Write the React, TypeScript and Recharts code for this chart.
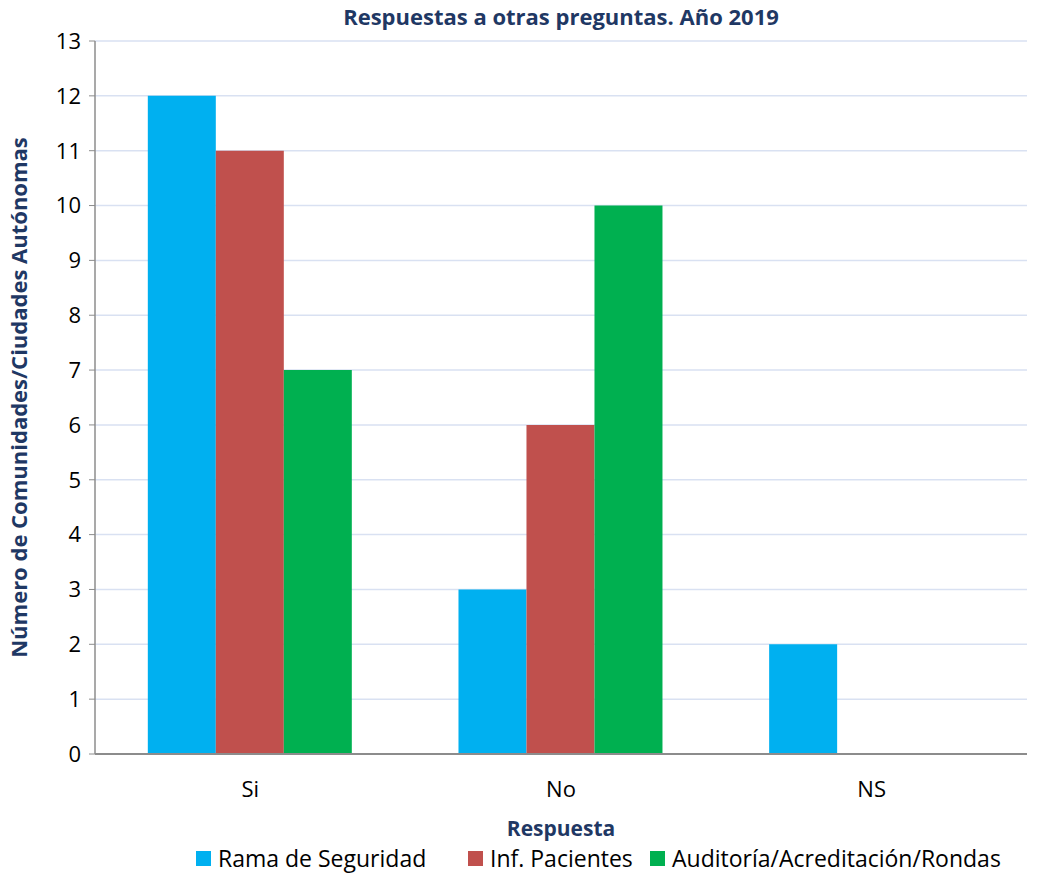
import React from 'react';
import { BarChart, Bar, XAxis, YAxis, CartesianGrid } from 'recharts';

const categories = ['Si', 'No', 'NS'];
const ramaSeguridad = [12, 3, 2];
const infPacientes = [11, 6, 0];
const auditoria = [7, 10, 0];
const yTicks = [0, 1, 2, 3, 4, 5, 6, 7, 8, 9, 10, 11, 12, 13];

const series = [
  { key: 'rama', name: 'Rama de Seguridad', color: '#00B0F0', left: 196 },
  { key: 'inf', name: 'Inf. Pacientes', color: '#C0504D', left: 468 },
  { key: 'aud', name: 'Auditoría/Acreditación/Rondas', color: '#00B050', left: 650 },
];

const data = categories.map((c, i) => ({
  name: c,
  rama: ramaSeguridad[i],
  inf: infPacientes[i],
  aud: auditoria[i],
}));

const FONT = 'Open Sans, sans-serif';
const NAVY = '#1F3864';

export default function App() {
  return (
    <div style={{ position: 'absolute', left: 0, top: 0, width: 1037, height: 875, background: '#fff' }}>
      <div style={{ position: 'absolute', top: 1, left: 95, width: 932, textAlign: 'center', fontFamily: FONT, fontWeight: 700, fontSize: 22, color: NAVY }}>
        Respuestas a otras preguntas. Año 2019
      </div>
      <BarChart
        width={1037}
        height={875}
        data={data}
        margin={{ top: 41, right: 10, bottom: 0, left: 0 }}
        barCategoryGap="17%"
        barGap={0}
      >
        <CartesianGrid vertical={false} stroke="#D9E1F2" strokeWidth={1.5} />
        <XAxis
          dataKey="name"
          tickLine={false}
          axisLine={{ stroke: '#8C8C8C', strokeWidth: 2 }}
          tick={{ fill: '#000', fontSize: 22, fontFamily: FONT }}
          tickMargin={21}
          height={121}
          label={{ value: 'Respuesta', position: 'insideTop', dy: 62, style: { fill: NAVY, fontWeight: 700, fontSize: 21, fontFamily: FONT } }}
        />
        <YAxis
          domain={[0, 13]}
          ticks={yTicks}
          interval={0}
          width={95}
          axisLine={{ stroke: '#8C8C8C', strokeWidth: 1.5 }}
          tickLine={{ stroke: '#8C8C8C' }}
          tickSize={6}
          tick={{ fill: '#000', fontSize: 22, fontFamily: FONT }}
          tickMargin={8}
          label={{
            value: 'Número de Comunidades/Ciudades Autónomas',
            angle: -90,
            position: 'insideLeft',
            dx: 14,
            style: { fill: NAVY, fontWeight: 700, fontSize: 22, fontFamily: FONT, textAnchor: 'middle' },
          }}
        />
        {series.map((s) => (
          <Bar key={s.key} dataKey={s.key} name={s.name} fill={s.color} isAnimationActive={false} />
        ))}
      </BarChart>
      {series.map((s) => (
        <div
          key={s.key}
          style={{ position: 'absolute', left: s.left, top: 842, display: 'flex', alignItems: 'center', fontFamily: FONT, fontSize: 23, color: '#000', whiteSpace: 'nowrap' }}
        >
          <span style={{ width: 15, height: 15, background: s.color, display: 'inline-block', marginRight: 7 }} />
          <span>{s.name}</span>
        </div>
      ))}
    </div>
  );
}
